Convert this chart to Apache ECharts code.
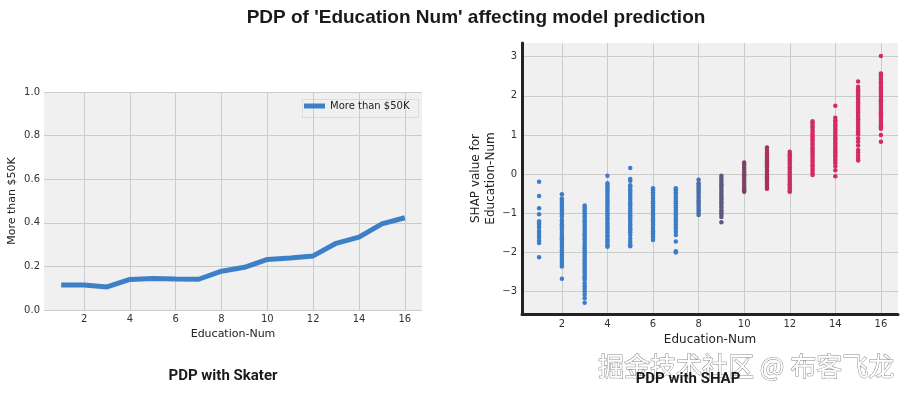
<!DOCTYPE html>
<html>
<head>
<meta charset="utf-8">
<script src="https://cdn.jsdelivr.net/npm/echarts@6/dist/echarts.min.js"></script>
<style>
html,body{margin:0;padding:0;background:#fff;}
#chart{width:907px;height:394px;}
</style>
</head>
<body>
<div id="chart"></div>
<script>
// ---------- data ----------
const eduNums = [1,2,3,4,5,6,7,8,9,10,11,12,13,14,15,16];
const pdpValues = [0.115,0.115,0.106,0.140,0.144,0.142,0.141,0.178,0.196,0.232,0.239,0.248,0.306,0.334,0.395,0.423];
const xTicks = [2,4,6,8,10,12,14,16];
const pdpYTicks = [0,0.2,0.4,0.6,0.8,1.0];
const shapYTicks = [-3,-2,-1,0,1,2,3];

const shap1 = [-0.19,-0.56,-0.87,-1.02,-1.2,-1.25,-1.3,-1.36,-1.45,-1.5,-1.57,-1.62,-1.7,-1.76,-2.12];
const shap2 = [-0.51,-0.62,-0.66,-0.71,-0.76,-0.81,-0.86,-0.9,-0.96,-1.02,-1.08,-1.17,-1.22,-1.28,-1.33,-1.39,-1.44,-1.5,-1.55,-1.61,-1.66,-1.72,-1.77,-1.83,-1.88,-1.94,-1.99,-2.05,-2.1,-2.16,-2.21,-2.27,-2.32,-2.36,-2.67];
const shap3 = [-0.8,-0.85,-0.9,-0.96,-1.01,-1.07,-1.12,-1.18,-1.23,-1.29,-1.34,-1.4,-1.45,-1.51,-1.56,-1.62,-1.67,-1.73,-1.78,-1.84,-1.89,-1.95,-2.0,-2.06,-2.11,-2.17,-2.22,-2.28,-2.33,-2.39,-2.44,-2.5,-2.55,-2.61,-2.66,-2.7,-2.79,-2.86,-2.93,-3.0,-3.08,-3.17,-3.28];
const shap4 = [-0.04,-0.23,-0.28,-0.34,-0.39,-0.45,-0.5,-0.56,-0.61,-0.67,-0.72,-0.78,-0.83,-0.89,-0.94,-1.0,-1.05,-1.11,-1.16,-1.22,-1.27,-1.33,-1.38,-1.44,-1.49,-1.55,-1.6,-1.66,-1.71,-1.77,-1.82,-1.85];
const shap5 = [0.16,-0.12,-0.17,-0.28,-0.33,-0.39,-0.44,-0.5,-0.55,-0.61,-0.66,-0.72,-0.77,-0.83,-0.88,-0.94,-0.99,-1.05,-1.1,-1.16,-1.21,-1.27,-1.32,-1.38,-1.43,-1.49,-1.55,-1.64,-1.72,-1.79,-1.84];
const shap6 = [-0.36,-0.41,-0.47,-0.52,-0.58,-0.63,-0.69,-0.74,-0.8,-0.85,-0.91,-0.96,-1.02,-1.07,-1.13,-1.18,-1.24,-1.29,-1.35,-1.4,-1.46,-1.51,-1.57,-1.62,-1.68];
const shap7 = [-0.36,-0.41,-0.47,-0.52,-0.58,-0.63,-0.69,-0.74,-0.8,-0.85,-0.91,-0.96,-1.02,-1.07,-1.13,-1.18,-1.24,-1.29,-1.35,-1.4,-1.47,-1.55,-1.72,-1.97,-2.0];
const shap8 = [-0.14,-0.23,-0.28,-0.34,-0.39,-0.45,-0.5,-0.56,-0.61,-0.67,-0.72,-0.78,-0.83,-0.89,-0.94,-0.99,-1.04];
const shap9 = [-0.04,-0.09,-0.15,-0.2,-0.26,-0.31,-0.37,-0.42,-0.48,-0.53,-0.59,-0.64,-0.7,-0.75,-0.81,-0.86,-0.92,-0.97,-1.03,-1.09,-1.23];
const shap10 = [0.3,0.25,0.19,0.14,0.08,0.03,-0.03,-0.08,-0.14,-0.19,-0.25,-0.3,-0.36,-0.41,-0.45];
const shap11 = [0.68,0.62,0.55,0.5,0.44,0.39,0.33,0.28,0.22,0.17,0.11,0.06,0.0,-0.05,-0.11,-0.16,-0.22,-0.27,-0.33,-0.37];
const shap12 = [0.57,0.51,0.46,0.4,0.35,0.29,0.24,0.18,0.13,0.07,0.02,-0.04,-0.09,-0.15,-0.2,-0.26,-0.3,-0.36,-0.42,-0.45];
const shap13 = [1.35,1.3,1.24,1.19,1.13,1.08,1.02,0.97,0.91,0.86,0.8,0.75,0.69,0.64,0.58,0.53,0.47,0.42,0.36,0.31,0.25,0.2,0.14,0.09,0.03,-0.02];
const shap14 = [1.75,1.44,1.38,1.33,1.27,1.22,1.16,1.11,1.05,1.0,0.94,0.89,0.83,0.78,0.72,0.67,0.61,0.56,0.5,0.45,0.39,0.34,0.28,0.2,0.1,-0.05];
const shap15 = [2.37,2.23,2.17,2.12,2.06,2.01,1.95,1.9,1.84,1.79,1.73,1.68,1.62,1.57,1.51,1.46,1.4,1.35,1.29,1.24,1.18,1.13,1.07,1.02,0.92,0.83,0.73,0.62,0.55,0.47,0.4,0.35];
const shap16 = [3.02,2.57,2.52,2.46,2.41,2.35,2.3,2.24,2.19,2.13,2.08,2.02,1.97,1.91,1.86,1.8,1.75,1.69,1.64,1.58,1.53,1.47,1.42,1.36,1.31,1.25,1.2,1.16,1.0,0.83];
const shapColumns = [shap1,shap2,shap3,shap4,shap5,shap6,shap7,shap8,shap9,shap10,shap11,shap12,shap13,shap14,shap15,shap16];

// ---------- style ----------
const columnColors = ['#3b7dc8','#3b7dc8','#3b7dc8','#3b7dc8','#3b7dc8','#3b7dc8','#3b7dc8',
  '#4670a8','#5b5a80','#7b4466','#a8325f','#c92c64','#d42a66','#d42a66','#d42a66','#d42a66'];
const lineBlue = '#3e80c8';
const gridGray = '#cbcbcb';
const bgGray = '#f0f0f0';
const tickFont = {fontFamily:'DejaVu Sans', fontSize:10, color:'#333'};

const pdpData = eduNums.map((x,i)=>[x,pdpValues[i]]);
const shapData = [];
shapColumns.forEach((ys,i)=>ys.forEach(y=>shapData.push([eduNums[i], y])));

const minusFmt = v => String(v).replace('-', '\u2212');

const chart = echarts.init(document.getElementById('chart'), null, {renderer:'canvas'});
chart.setOption({
  animation:false,
  backgroundColor:'#fff',
  grid:[
    {left:44, top:92, width:378, height:218, show:true, backgroundColor:bgGray, borderWidth:0},
    {left:522, top:43, width:376, height:271, show:true, backgroundColor:bgGray, borderWidth:0}
  ],
  xAxis:[
    {gridIndex:0, type:'value', min:0.25, max:16.75,
     axisLine:{show:false}, axisTick:{show:false, customValues:xTicks},
     axisLabel:Object.assign({customValues:xTicks, margin:4}, tickFont),
     splitLine:{show:true, lineStyle:{color:gridGray, width:1}},
     name:'Education-Num', nameLocation:'middle', nameGap:19,
     nameTextStyle:{fontFamily:'DejaVu Sans', fontSize:11, color:'#222'}},
    {gridIndex:1, type:'value', min:0.25, max:16.75,
     axisLine:{show:true, onZero:false, lineStyle:{color:'#222', width:3}},
     axisTick:{show:false, customValues:xTicks},
     axisLabel:Object.assign({customValues:xTicks, margin:5}, tickFont),
     splitLine:{show:true, lineStyle:{color:gridGray, width:1}},
     name:'Education-Num', nameLocation:'middle', nameGap:20,
     nameTextStyle:{fontFamily:'DejaVu Sans', fontSize:12, color:'#222'}}
  ],
  yAxis:[
    {gridIndex:0, type:'value', min:0, max:1, interval:0.2,
     axisLine:{show:false}, axisTick:{show:false},
     axisLabel:Object.assign({margin:4, formatter:v=>v.toFixed(1)}, tickFont),
     splitLine:{show:true, lineStyle:{color:gridGray, width:1}},
     name:'More than $50K', nameLocation:'middle', nameGap:26,
     nameTextStyle:{fontFamily:'DejaVu Sans', fontSize:11, color:'#222'}},
    {gridIndex:1, type:'value', min:-3.57, max:3.35,
     axisLine:{show:true, onZero:false, lineStyle:{color:'#222', width:3}},
     axisTick:{show:false, customValues:shapYTicks},
     axisLabel:Object.assign({customValues:shapYTicks, margin:5, formatter:minusFmt}, tickFont),
     splitLine:{show:true, lineStyle:{color:gridGray, width:1}},
     name:'SHAP value for\nEducation-Num', nameLocation:'middle', nameGap:24,
     nameTextStyle:{fontFamily:'DejaVu Sans', fontSize:12, color:'#222', lineHeight:15}}
  ],
  legend:{
    left:302, top:99, data:['More than $50K'], icon:'rect', itemWidth:21, itemHeight:5, itemGap:5,
    padding:[2,4,2,2],
    textStyle:{fontFamily:'DejaVu Sans', fontSize:10, color:'#222'}
  },
  series:[
    {name:'More than $50K', type:'line', xAxisIndex:0, yAxisIndex:0, data:pdpData,
     showSymbol:false, symbol:'none', lineStyle:{color:lineBlue, width:5}, itemStyle:{color:lineBlue}},
    {name:'shap', type:'scatter', xAxisIndex:1, yAxisIndex:1, data:shapData, symbolSize:4.5,
     itemStyle:{color:p=>columnColors[eduNums.indexOf(p.value[0])], opacity:1}}
  ],
  graphic:[
    {type:'rect', left:300, top:97, shape:{width:116, height:18},
     style:{fill:'none', stroke:'#c8c8c8', lineWidth:1, lineDash:[1,1]}, z:100},
    {type:'text', x:476, y:8, style:{text:"PDP of 'Education Num' affecting model prediction",
      font:'bold 19px "Liberation Sans", Arial, sans-serif', fill:'#1a1a1a', textAlign:'center'}},
    {type:'text', x:598, y:353, style:{text:'掘金技术社区 @ 布客飞龙',
      font:'26px "Noto Sans CJK SC"', fill:'#ffffff', stroke:'#8a8a8a', lineWidth:1, textAlign:'left'}},
    {type:'text', x:223, y:369, style:{text:'PDP with Skater',
      font:'bold 15px Roboto', fill:'#1a1a1a', textAlign:'center'}},
    {type:'text', x:688, y:372, style:{text:'PDP with SHAP',
      font:'bold 15px Roboto', fill:'#1a1a1a', textAlign:'center'}}
  ]
});
</script>
</body>
</html>
